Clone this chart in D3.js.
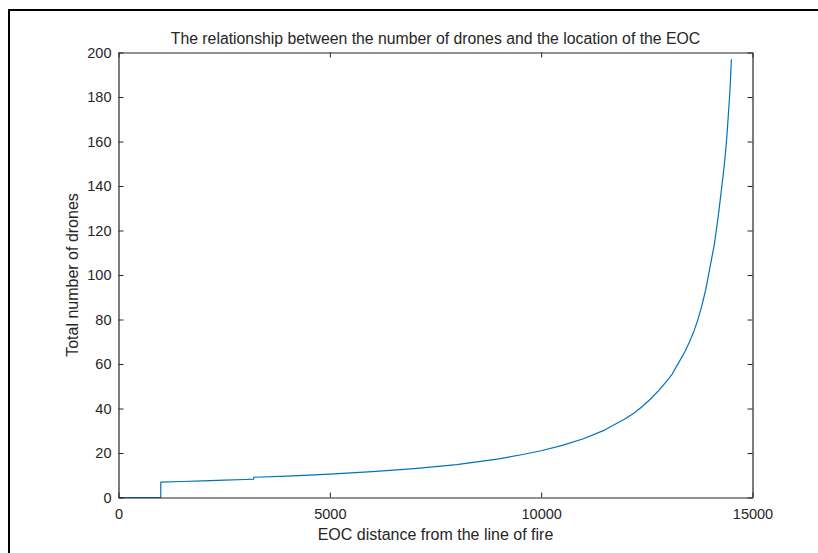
<!DOCTYPE html>
<html>
<head>
<meta charset="utf-8">
<script src="https://cdn.jsdelivr.net/npm/d3@7"></script>
<style>
  html, body { margin: 0; padding: 0; background: #fff; }
  svg { display: block; }
  text { font-family: "Liberation Sans", Arial, Helvetica, sans-serif; fill: #262626; }
</style>
</head>
<body>
<svg id="chart" width="818" height="553"></svg>
<script>
// EOC distance from the line of fire (m) and the matching drone count
const distance = [0, 1000, 1000, 1500, 2000, 2500, 3000, 3200, 3200, 4000, 5000, 6000, 7000,
  8000, 9000, 9500, 10000, 10500, 11000, 11500, 12000, 12200, 12400, 12600, 12800, 13000,
  13100, 13250, 13400, 13500, 13600, 13700, 13800, 13900, 14000, 14050, 14100, 14150,
  14200, 14250, 14300, 14325, 14350, 14375, 14400, 14425, 14450, 14475, 14500];
const drones = [0, 0, 6.9, 7.2, 7.5, 7.8, 8.1, 8.3, 9.1, 9.6, 10.5, 11.6, 13.0,
  14.8, 17.4, 19.1, 21.0, 23.4, 26.4, 30.3, 35.5, 38, 41, 44.5, 48.5, 53,
  55.5, 60.5, 65.5, 69.5, 74, 79.5, 86, 94, 104, 109, 114, 121,
  128, 136, 144, 148, 153, 158, 164, 171, 178, 186, 197];

const xTicks = [0, 5000, 10000, 15000];
const yTicks = [0, 20, 40, 60, 80, 100, 120, 140, 160, 180, 200];

const titleText = "The relationship between the number of drones and the location of the EOC";
const xLabel = "EOC distance from the line of fire";
const yLabel = "Total number of drones";

const svg = d3.select("#chart");
const plotLeft = 118.5, plotRight = 752.5, plotTop = 52.5, plotBottom = 497.5;
const axisColor = "#262626";

// figure frame
svg.append("rect")
  .attr("x", 9).attr("y", 10)
  .attr("width", 830).attr("height", 560)
  .attr("fill", "none").attr("stroke", "#000").attr("stroke-width", 2);

const x = d3.scaleLinear().domain([0, 15000]).range([plotLeft, plotRight]);
const y = d3.scaleLinear().domain([0, 200]).range([plotBottom, plotTop]);

// data line
const line = d3.line().x((d, i) => x(distance[i])).y((d, i) => y(drones[i]));
svg.append("path")
  .datum(drones)
  .attr("d", line)
  .attr("fill", "none")
  .attr("stroke", "#0072BD")
  .attr("stroke-width", 1.2)
  .attr("stroke-linejoin", "round");

// axes with inward ticks on all four sides
const fmt = d3.format("d");
const bottomAxis = d3.axisBottom(x).tickValues(xTicks).tickFormat(fmt).tickSizeInner(-5).tickSizeOuter(0).tickPadding(11);
const topAxis = d3.axisTop(x).tickValues(xTicks).tickFormat("").tickSizeInner(-5).tickSizeOuter(0);
const leftAxis = d3.axisLeft(y).tickValues(yTicks).tickFormat(fmt).tickSizeInner(-5).tickSizeOuter(0).tickPadding(7);
const rightAxis = d3.axisRight(y).tickValues(yTicks).tickFormat("").tickSizeInner(-5).tickSizeOuter(0);

function style(g) {
  g.select(".domain").attr("stroke", axisColor).attr("stroke-width", 1.2);
  g.selectAll(".tick line").attr("stroke", axisColor).attr("stroke-width", 1);
  g.selectAll(".tick text").attr("fill", axisColor)
    .style("font-family", '"Liberation Sans", Arial, sans-serif').style("font-size", "14.5px");
}

svg.append("g").attr("transform", `translate(0,${plotBottom})`).call(bottomAxis).call(style);
svg.append("g").attr("transform", `translate(0,${plotTop})`).call(topAxis).call(style);
svg.append("g").attr("transform", `translate(${plotLeft},0)`).call(leftAxis).call(style);
svg.append("g").attr("transform", `translate(${plotRight},0)`).call(rightAxis).call(style);

// title and axis labels
svg.append("text")
  .attr("x", (plotLeft + plotRight) / 2).attr("y", 44)
  .attr("text-anchor", "middle")
  .style("font-size", "15.8px")
  .text(titleText);

svg.append("text")
  .attr("x", (plotLeft + plotRight) / 2).attr("y", 540)
  .attr("text-anchor", "middle")
  .style("font-size", "16px")
  .text(xLabel);

svg.append("text")
  .attr("transform", `translate(78,${(plotTop + plotBottom) / 2}) rotate(-90)`)
  .attr("text-anchor", "middle")
  .style("font-size", "16px")
  .text(yLabel);
</script>
</body>
</html>
